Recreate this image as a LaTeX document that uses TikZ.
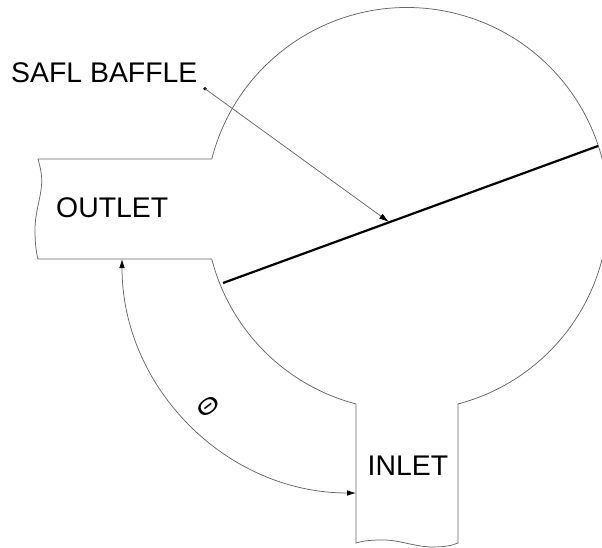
\documentclass[tikz,border=0pt]{standalone}
\usepackage{fontspec}
\usepackage{graphicx}
\setmainfont{Liberation Sans}
\usetikzlibrary{arrows.meta}
\tikzset{
  x=1pt,y=-1pt,
  wall/.style={draw=black!60,line width=0.75pt,line join=miter},
  lbl/.style={inner sep=0pt,anchor=base west,font=\fontsize{28.4}{30}\selectfont,text=black},
  leader/.style={draw=black!60,line width=0.75pt},
  baffle/.style={draw=black,line width=2.2pt,line cap=butt},
  leaderdot/.style={circle,fill=black,inner sep=0pt,minimum size=3.6pt},
}
\begin{document}
\begin{tikzpicture}
\useasboundingbox (0,0) rectangle (602,547);
\clip (0,0) rectangle (602,547);
\coordinate (C) at (407,209);
\coordinate (outTopL) at (38,159);
\coordinate (outTopR) at (211.8,158.9);
\coordinate (outBotL) at (38,259);
\coordinate (outBotR) at (211.8,259.1);
\coordinate (inL) at (355.9,403.9);
\coordinate (inR) at (458.1,403.9);
\coordinate (inBL) at (356,543);
\coordinate (inBR) at (458,543);
% outlet
\draw[wall] (outTopR) -- (outTopL)
  .. controls (41,170) and (42,176) .. (41.7,183)
  .. controls (41,198) and (35,212) .. (35,230)
  .. controls (35,242) and (36,252) .. (outBotL) -- (outBotR);
% inlet
\draw[wall] (inL) -- (inBL)
  .. controls (366,540) and (375,540) .. (384,540)
  .. controls (400,540) and (415,547) .. (433,547)
  .. controls (443,547) and (451,546) .. (inBR) -- (inR);
% circle arcs
\draw[wall] (outTopR) arc[start angle=-165.6,end angle=75.3,radius=201.5];
\draw[wall] (outBotR) arc[start angle=165.6,end angle=104.7,radius=201.5];
% baffle
\coordinate (bafL) at (223,283);
\coordinate (bafR) at (598,146);
\coordinate (bafHit) at (389,222);
\draw[baffle] (bafL) -- (bafR);
% leader
\node[leaderdot] (dot) at (205,88.7) {};
\draw[leader,-{Latex[length=10pt,width=6pt,black]}] (dot.center) -- (bafHit);
% angle dimension
\coordinate (angIn) at (356,493);
\draw[leader,{Latex[length=9pt,width=5.5pt,black]}-{Latex[length=9pt,width=5.5pt,black]}]
  (angIn) arc[start angle=90,end angle=180,radius=234];
% labels
\node[lbl] (safl) at (11,82) {SAFL BAFFLE};
\node[lbl] (outlet) at (56,217) {OUTLET};
\node[lbl] (inlet) at (367.5,475) {INLET};
\node[inner sep=0pt,rotate=38,font=\fontsize{21}{22}\selectfont] (theta) at (208,407) {\scalebox{1.45}[1]{Θ}};
\end{tikzpicture}
\end{document}
